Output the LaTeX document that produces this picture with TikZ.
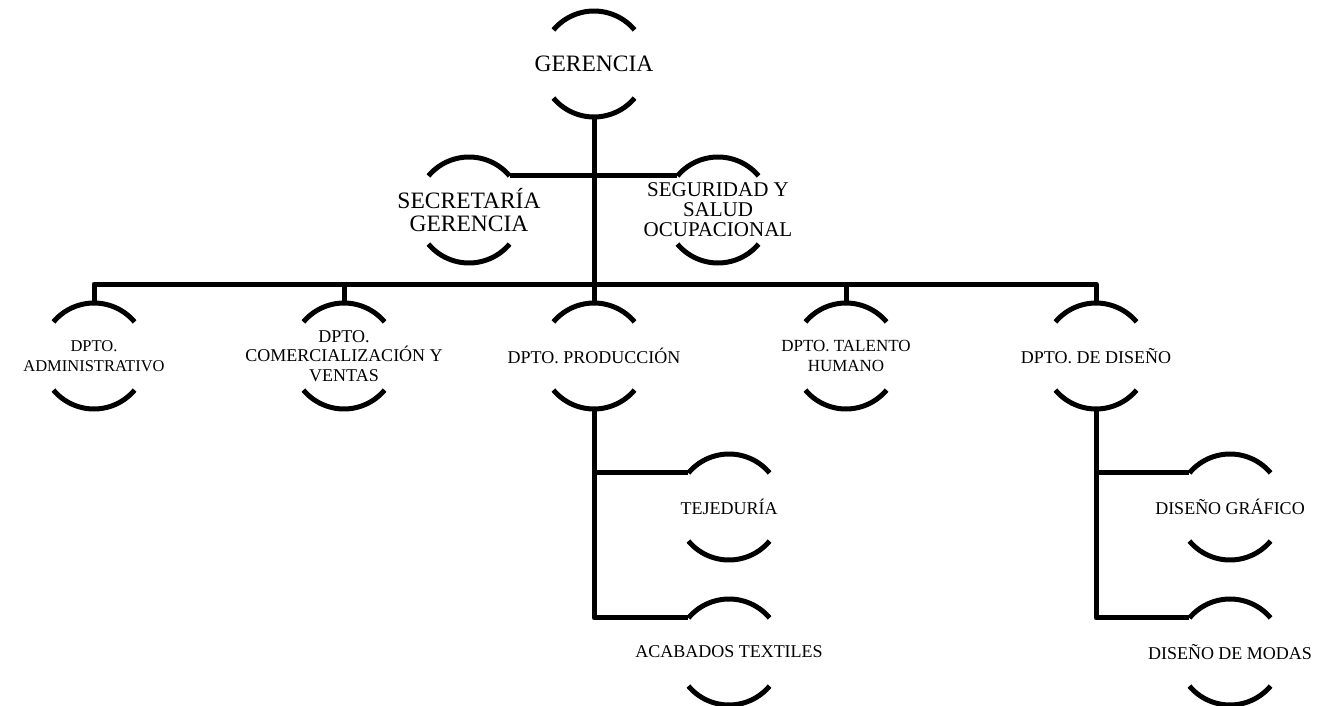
\documentclass[tikz,border=0pt]{standalone}
\usepackage{fontspec}
\setmainfont{Liberation Serif}
\usetikzlibrary{calc}
\begin{document}
\begin{tikzpicture}[x=1pt,y=-1pt,
  conn/.style={line width=5pt, line join=round},
  orgnode/.style={circle, minimum size=106pt, inner sep=0pt, outer sep=0pt},
  lbig/.style={align=center, inner sep=0pt, font=\fontsize{23.5}{23}\selectfont},
  lmid/.style={align=center, inner sep=0pt, font=\fontsize{21}{20}\selectfont},
  lsmall/.style={align=center, inner sep=0pt, font=\fontsize{18}{19.5}\selectfont}]
\useasboundingbox (0,0) rectangle (1320,706);
% nodes
\node[orgnode, label={[lbig]center:GERENCIA}] (ger) at (594,64) {};
\node[orgnode, label={[lbig]center:SECRETARÍA\\GERENCIA}] (sec) at (469,210) {};
\node[orgnode, label={[lmid]center:SEGURIDAD Y\\SALUD\\OCUPACIONAL}] (seg) at (718,210) {};
\node[orgnode, label={[lsmall,font=\fontsize{16.5}{19.5}\selectfont]center:DPTO.\\ADMINISTRATIVO}] (adm) at (94,356) {};
\node[orgnode, label={[lsmall]center:DPTO.\\COMERCIALIZACIÓN Y\\VENTAS}] (com) at (344,356) {};
\node[orgnode, label={[lsmall]center:DPTO. PRODUCCIÓN}] (pro) at (594,356) {};
\node[orgnode, label={[lsmall,font=\fontsize{17}{19.5}\selectfont]center:DPTO. TALENTO\\HUMANO}] (tal) at (846,356) {};
\node[orgnode, label={[lsmall]center:DPTO. DE DISEÑO}] (dis) at (1096,356) {};
\node[orgnode, label={[lsmall]center:TEJEDURÍA}] (tej) at (729,507) {};
\node[orgnode, label={[lsmall]center:ACABADOS TEXTILES}] (aca) at (729,652) {};
\node[orgnode, label={[lsmall]center:DISEÑO GRÁFICO}] (dgr) at (1230,507) {};
\node[orgnode, label={[lsmall]center:DISEÑO DE MODAS}] (dmo) at (1230,652) {};
% arcs
\foreach \n in {ger,sec,seg,adm,com,pro,tal,dis,tej,aca,dgr,dmo}{
  \draw[conn] (\n.40) arc[start angle=40, end angle=140, radius=53pt];
  \draw[conn] (\n.220) arc[start angle=220, end angle=320, radius=53pt];
}
% connectors
\coordinate (bus) at (594,284);
\draw[conn] (ger.south) -- (pro.north);
\draw[conn] (sec.40) -- (seg.140);
\draw[conn] (adm.north) -- (adm.north |- bus) -- (dis.north |- bus) -- (dis.north);
\draw[conn] (com.north) -- (com.north |- bus);
\draw[conn] (tal.north) -- (tal.north |- bus);
\draw[conn] (pro.south) -- (pro.south |- aca.140) -- (aca.140);
\draw[conn] (pro.south |- tej.140) -- (tej.140);
\draw[conn] (dis.south) -- (dis.south |- dmo.140) -- (dmo.140);
\draw[conn] (dis.south |- dgr.140) -- (dgr.140);
\end{tikzpicture}
\end{document}
